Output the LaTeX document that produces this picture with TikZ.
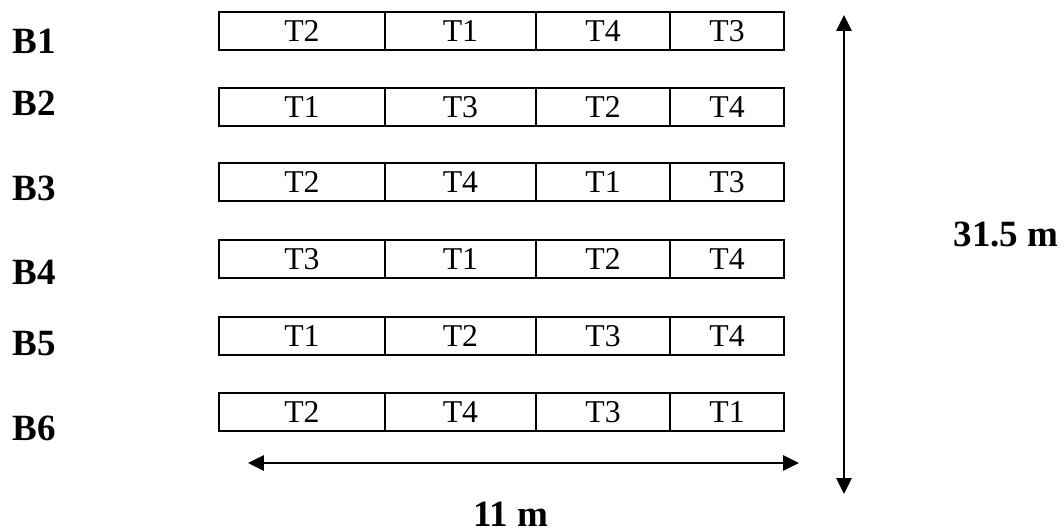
\documentclass[tikz,border=0pt]{standalone}
\usepackage{fontspec}
\setmainfont{Liberation Serif}
\usetikzlibrary{arrows.meta,positioning}

\begin{document}
\begin{tikzpicture}[x=0.378pt,y=-0.378pt,font=\fontsize{12}{14}\selectfont,
  cell/.style={draw,line width=0.6pt,minimum height=14.4pt,inner sep=0pt,outer sep=0pt},
  lbl/.style={font=\fontsize{14}{16}\selectfont\bfseries,inner sep=0pt},
  dim/.style={line width=0.45pt,{Triangle[length=6pt,width=5.8pt]}-{Triangle[length=6pt,width=5.8pt]}}]
  \useasboundingbox (0,0) rectangle (1064,531);
  % blocks with their treatments
  \foreach \r/\y/\ly/\a/\b/\c/\d in {1/12/41/T2/T1/T4/T3, 2/88/103/T1/T3/T2/T4,
      3/163/188/T2/T4/T1/T3, 4/240/272/T3/T1/T2/T4, 5/317/344/T1/T2/T3/T4, 6/393/428/T2/T4/T3/T1}{
    \node[cell,minimum width=62.7pt,anchor=north west] (p\r a) at (219,\y) {\a};
    \node[cell,minimum width=57.1pt,right=0pt of p\r a] (p\r b) {\b};
    \node[cell,minimum width=50.7pt,right=0pt of p\r b] (p\r c) {\c};
    \node[cell,minimum width=43.1pt,right=0pt of p\r c] (p\r d) {\d};
    \node[lbl,anchor=west] (b\r) at (12,\ly) {B\r};
  }
  % dimensions
  \coordinate (vtop) at (844,15);
  \coordinate (vbot) at (844,494);
  \coordinate (hleft) at (248,463);
  \coordinate (hright) at (799,463);
  \draw[dim] (vtop) -- (vbot);
  \draw[dim] (hleft) -- (hright);
  \node[lbl] (len) at (511,514) {11 m};
  \node[lbl] (wid) at (1006,235) {31.5 m};
\end{tikzpicture}
\end{document}
